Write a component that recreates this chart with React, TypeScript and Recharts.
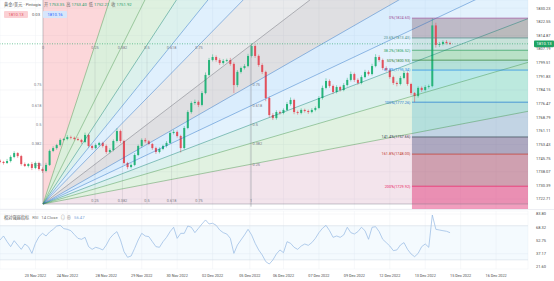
import React from 'react';
import {
  ComposedChart,
  Bar,
  Line,
  Area,
  XAxis,
  YAxis,
  CartesianGrid,
  ReferenceLine,
  ReferenceDot,
  ReferenceArea,
} from 'recharts';

// candle closes (open = previous close)
const firstOpen = 1744.3;
const closes = [
  1743.6, 1743.0, 1744.1, 1746.4, 1748.6, 1746.9, 1742.4, 1741.3, 1742.4, 1740.2,
  1743.0, 1739.6, 1738.5, 1741.9, 1749.8, 1751.4, 1753.1, 1756.0, 1756.5, 1757.6,
  1757.2, 1756.5, 1756.0, 1754.8, 1758.8, 1752.6, 1751.4, 1753.1, 1754.3, 1752.6,
  1749.2, 1750.3, 1755.4, 1761.0, 1755.4, 1743.0, 1740.7, 1741.9, 1747.5, 1752.6,
  1756.0, 1755.2, 1753.7, 1751.4, 1749.2, 1750.9, 1752.6, 1754.3, 1759.9, 1760.5,
  1758.2, 1751.4, 1762.7, 1771.7, 1776.8, 1777.4, 1775.7, 1782.4, 1792.6, 1801.0,
  1802.7, 1801.0, 1799.3, 1800.5, 1801.0, 1798.8, 1786.9, 1794.3, 1796.5, 1797.6,
  1803.3, 1808.9, 1803.3, 1798.2, 1794.3, 1779.6, 1770.0, 1768.3, 1771.7, 1771.2,
  1772.9, 1776.2, 1778.5, 1771.7, 1771.2, 1772.9, 1772.3, 1771.7, 1772.9, 1774.0,
  1779.6, 1785.3, 1789.2, 1786.4, 1783.0, 1785.8, 1784.1, 1786.9, 1789.8, 1793.1,
  1789.8, 1788.1, 1791.4, 1794.3, 1793.1, 1797.6, 1802.7, 1801.0, 1796.5, 1795.4,
  1791.4, 1788.1, 1787.5, 1790.9, 1793.7, 1787.5, 1782.4, 1780.7, 1785.3, 1784.1,
  1785.8, 1786.3, 1820.5, 1809.5, 1810.0, 1811.2, 1810.6, 1810.13,
];
const upperWicks = [
  0.8, 0.6, 1.2, 0.9, 1.0, 0.5, 0.7, 0.9, 0.6, 1.1,
  0.8, 0.7, 0.9, 1.2, 0.8, 1.0, 0.7, 0.9, 0.6, 1.1,
  0.8, 0.7, 1.0, 0.6, 1.3, 0.7, 0.8, 0.9, 0.6, 0.7,
  0.8, 1.0, 0.9, 1.6, 0.8, 0.7, 0.6, 0.9, 1.0, 0.8,
  0.9, 1.1, 0.7, 0.6, 0.8, 0.9, 0.7, 1.0, 0.9, 1.2,
  0.8, 0.7, 1.1, 1.0, 0.9, 1.3, 0.8, 1.1, 1.4, 1.2,
  1.5, 0.9, 1.0, 1.1, 0.8, 1.2, 0.9, 1.0, 0.8, 1.1,
  1.2, 1.6, 0.9, 0.8, 1.0, 0.7, 0.9, 1.1, 1.0, 0.8,
  0.9, 1.2, 1.4, 0.7, 0.8, 0.9, 0.7, 0.8, 1.0, 0.9,
  1.1, 1.3, 1.5, 0.9, 0.8, 1.0, 0.7, 1.1, 1.2, 1.4,
  0.8, 0.9, 1.0, 1.2, 0.9, 1.3, 1.6, 1.0, 0.8, 0.9,
  0.7, 0.8, 0.9, 1.1, 1.2, 0.8, 0.7, 0.6, 0.9, 0.8,
  1.0, 0.9, 4.1, 1.5, 1.2, 0.9, 1.0, 0.8,
];
const lowerWicks = [
  0.7, 0.9, 0.6, 0.8, 0.7, 1.0, 0.9, 0.6, 0.8, 1.2,
  0.7, 0.9, 1.1, 0.8, 0.6, 0.7, 0.9, 0.8, 0.6, 0.7,
  0.9, 0.8, 0.6, 1.0, 0.7, 0.9, 1.1, 0.7, 0.8, 0.9,
  1.0, 0.8, 0.7, 0.9, 1.2, 0.9, 1.2, 0.8, 0.7, 0.6,
  0.8, 0.9, 0.7, 1.0, 1.1, 0.8, 0.7, 0.9, 0.6, 0.8,
  0.9, 2.5, 0.8, 0.7, 0.9, 1.0, 1.2, 0.8, 0.7, 0.9,
  0.8, 1.0, 1.1, 0.9, 0.7, 1.0, 4.5, 1.2, 0.9, 0.8,
  0.7, 0.9, 1.1, 1.0, 1.2, 1.8, 1.3, 1.1, 0.9, 1.0,
  0.8, 0.7, 0.9, 1.2, 1.0, 0.8, 0.9, 1.1, 0.7, 0.8,
  0.7, 0.9, 0.8, 1.0, 1.2, 0.8, 0.9, 0.7, 0.8, 0.9,
  1.1, 1.0, 0.8, 0.7, 0.9, 0.8, 0.7, 1.0, 1.2, 0.9,
  1.0, 1.1, 1.3, 0.8, 0.7, 1.0, 1.2, 3.44, 0.9, 1.0,
  0.8, 0.9, 0.7, 1.5, 1.2, 0.8, 0.9, 0.7,
];
const rsiValues = [
  53.3, 58.0, 51.3, 45.5, 52.5, 47.4, 42.3, 48.6, 45.5, 37.6,
  49.4, 57.2, 61.1, 58.0, 62.7, 65.8, 69.7, 70.5, 66.6, 65.8,
  64.2, 59.6, 55.2, 54.1, 56.4, 45.5, 42.3, 44.7, 43.5, 41.6,
  47.4, 55.2, 59.9, 63.1, 53.3, 39.6, 33.0, 34.5, 43.5, 53.3,
  61.1, 58.0, 57.2, 51.3, 45.5, 44.7, 51.3, 56.4, 63.1, 68.2,
  55.2, 61.1, 61.1, 69.7, 68.2, 61.9, 67.0, 72.1, 76.8, 72.1,
  72.9, 70.5, 65.0, 61.9, 60.3, 55.2, 37.6, 47.4, 53.3, 59.2,
  65.8, 59.2, 49.4, 41.6, 35.7, 27.9, 25.1, 29.8, 36.9, 41.6,
  38.4, 51.3, 49.4, 44.7, 42.3, 46.2, 48.6, 47.0, 50.2, 55.2,
  61.9, 67.0, 70.5, 64.2, 56.4, 58.0, 56.4, 59.2, 68.2, 61.9,
  60.3, 63.1, 68.2, 64.2, 54.1, 68.2, 68.9, 63.1, 54.1, 50.2,
  46.2, 40.8, 41.6, 47.4, 50.2, 42.3, 36.9, 33.7, 37.6, 45.5,
  48.6, 44.7, 82.6, 65.8, 65.0, 64.2, 63.5, 61.9,
];

const dateLabels = [
  '23 Nov 2022', '24 Nov 2022', '28 Nov 2022', '29 Nov 2022', '30 Nov 2022',
  '02 Dec 2022', '05 Dec 2022', '06 Dec 2022', '07 Dec 2022', '09 Dec 2022',
  '12 Dec 2022', '13 Dec 2022', '15 Dec 2022', '16 Dec 2022',
];
const datePositions = [10, 19, 30, 40, 50, 60, 70.5, 80, 90, 100, 110, 120, 130, 140];
const priceTicks = [
  1722.71, 1730.39, 1738.07, 1745.75, 1753.43, 1761.11, 1768.79, 1776.47,
  1784.15, 1791.83, 1799.51, 1807.19, 1814.87, 1822.55, 1830.23,
];
const rsiTicks = [21.6, 37.17, 52.75, 68.32, 83.8];
const lastPrice = 1810.13;

// fib speed resistance fan (anchor points of the drawing)
const fanStart = { x: 12.13, price: 1719.89 };
const fanEnd = { x: 70.83, price: 1809.47 };
const fanLevels = [0.25, 0.382, 0.5, 0.618, 0.75];

// fib retracement drawing
const fibHigh = 1824.6;
const fibLow = 1777.26;
const fibLevels = [0, 0.236, 0.382, 0.5, 0.618, 1, 1.414, 1.618, 2];
const fibStartX = 116.25;

const X_MAX = 149;
const FONT = 'Roboto, "Noto Sans CJK SC", sans-serif';
const GREEN = '#27b47a';
const RED = '#e2505c';
const CEIL = 2400;
const FLOOR = 1600;

const fanZoneColors = [
  'rgba(242,54,69,0.2)',
  'rgba(76,175,80,0.2)',
  'rgba(129,199,132,0.25)',
  'rgba(8,153,129,0.14)',
  'rgba(100,181,246,0.2)',
  'rgba(120,123,134,0.16)',
  'rgba(120,123,134,0.24)',
  'rgba(33,150,243,0.17)',
  'rgba(100,181,246,0.18)',
  'rgba(8,153,129,0.14)',
  'rgba(76,175,80,0.17)',
  'rgba(186,104,150,0.18)',
];
const fanRayColors = [
  '#787b86', '#388e3c', '#388e3c', '#00796b', '#1565c0', '#1565c0', '#5d606b',
  '#1565c0', '#1565c0', '#00796b', '#388e3c', '#388e3c', '#787b86',
];
const fibZoneColors = [
  'rgba(120,80,95,0.34)',
  'rgba(120,170,140,0.2)',
  'rgba(76,175,80,0.24)',
  'rgba(8,153,129,0.18)',
  'rgba(0,188,212,0.16)',
  'rgba(0,150,200,0.2)',
  'rgba(60,70,120,0.38)',
  'rgba(150,50,80,0.38)',
  'rgba(225,40,110,0.45)',
];
const fibColors = ['#9c4f96', '#4f8f8a', '#2e9e5b', '#2e7d32', '#1e88e5', '#1976d2', '#37474f', '#c0392b', '#e91e63'];

const candles = closes.map((c, i) => {
  const o = i === 0 ? firstOpen : closes[i - 1];
  return {
    x: i,
    open: o,
    close: c,
    high: Math.max(o, c) + upperWicks[i],
    low: Math.min(o, c) - lowerWicks[i],
    rsi: rsiValues[i],
  };
});

const fanDx = fanEnd.x - fanStart.x;
const fanDp = fanEnd.price - fanStart.price;
const fanSlopes = [
  Infinity,
  ...fanLevels.map((f) => fanDp / (f * fanDx)),
  fanDp / fanDx,
  ...[...fanLevels].reverse().map((f) => (f * fanDp) / fanDx),
  0,
];
const rayPrice = (s: number, x: number) =>
  s === Infinity ? CEIL : fanStart.price + s * (x - fanStart.x);

const fanZones = fanSlopes.slice(0, -1).map((s, i) => ({
  color: fanZoneColors[i],
  data: [
    { x: fanStart.x, band: [fanStart.price, s === Infinity ? CEIL : fanStart.price] },
    { x: X_MAX, band: [rayPrice(fanSlopes[i + 1], X_MAX), rayPrice(s, X_MAX)] },
  ],
}));
const fanRays = fanSlopes.map((s, i) => ({
  color: fanRayColors[i],
  data: [
    { x: fanStart.x, v: fanStart.price },
    { x: s === Infinity ? fanStart.x : X_MAX, v: rayPrice(s, X_MAX) },
  ],
}));

const fibPrices = fibLevels.map((f) => fibHigh - f * (fibHigh - fibLow));
const fibZones = fibPrices.map((p, i) => ({
  color: fibZoneColors[i],
  data: [
    { x: fibStartX, band: [i < fibPrices.length - 1 ? fibPrices[i + 1] : FLOOR, p] },
    { x: X_MAX, band: [i < fibPrices.length - 1 ? fibPrices[i + 1] : FLOOR, p] },
  ],
}));

const Candle = (props: any) => {
  const { x, y, width, height, payload } = props;
  if (!payload || height == null) return null;
  const { open, close, high, low } = payload;
  const color = close >= open ? GREEN : RED;
  const ppu = height / (high - low);
  const cx = x + width / 2;
  const bodyTop = y + (high - Math.max(open, close)) * ppu;
  const bodyH = Math.max(Math.abs(open - close) * ppu, 0.6);
  return (
    <g>
      <line x1={cx} x2={cx} y1={y} y2={y + height} stroke={color} strokeWidth={0.5} />
      <rect x={cx - 1} y={bodyTop} width={2} height={bodyH} fill={color} />
    </g>
  );
};

const PriceBadge = (props: any) => {
  const vb = props.viewBox || { x: 0, y: 0, width: 0 };
  const x = vb.x + vb.width;
  return (
    <g>
      <rect x={x + 6} y={vb.y - 3.3} width={20} height={6.6} rx={0.8} fill="#1fa463" />
      <text x={x + 16} y={vb.y + 1.4} textAnchor="middle" fontSize={4.2} fill="#fff" fontFamily={FONT}>
        {lastPrice.toFixed(2)}
      </text>
    </g>
  );
};

const tinyLabel = (value: string, position: string, fill = '#787b86') => ({
  value,
  position,
  offset: 1.5,
  fontSize: 3.8,
  fill,
  fontFamily: FONT,
});

const pctText = (f: number) => `${+(f * 100).toFixed(1)}%`;

export default function App() {
  return (
    <div style={{ position: 'absolute', left: 0, top: 0, width: 554, height: 281, background: '#fff', fontFamily: FONT }}>
      <div style={{ position: 'absolute', left: 0, top: 0 }}>
        <ComposedChart width={554} height={209} data={candles} margin={{ top: 0, right: 0, bottom: 0, left: 0 }}>
          <CartesianGrid stroke="#eef0f4" strokeWidth={0.5} />
          <XAxis type="number" dataKey="x" domain={[0, X_MAX]} ticks={datePositions} hide allowDataOverflow />
          <YAxis
            orientation="right"
            width={26}
            domain={[1717.08, 1834.82]}
            ticks={priceTicks}
            allowDataOverflow
            tickFormatter={(v: number) => v.toFixed(2)}
            tick={{ fontSize: 4, fill: '#4a4a4a', fontFamily: FONT }}
            axisLine={false}
            tickLine={false}
          />
          {fanZones.map((z, i) => (
            <Area
              key={`fz${i}`}
              data={z.data}
              dataKey="band"
              type="linear"
              stroke="none"
              fill={z.color}
              fillOpacity={1}
              dot={false}
              activeDot={false}
              isAnimationActive={false}
            />
          ))}
          {fibZones.map((z, i) => (
            <Area
              key={`bz${i}`}
              data={z.data}
              dataKey="band"
              type="linear"
              stroke="none"
              fill={z.color}
              fillOpacity={1}
              dot={false}
              activeDot={false}
              isAnimationActive={false}
            />
          ))}
          {[0, ...fanLevels].map((f) => (
            <Line
              key={`gv${f}`}
              data={[
                { x: fanStart.x + f * fanDx, v: fanStart.price },
                { x: fanStart.x + f * fanDx, v: fanEnd.price },
              ]}
              dataKey="v"
              stroke="rgba(120,123,134,0.3)"
              strokeWidth={0.5}
              dot={false}
              activeDot={false}
              isAnimationActive={false}
            />
          ))}
          <Line
            data={[
              { x: fanEnd.x, v: fanStart.price - 1.5 },
              { x: fanEnd.x, v: fanEnd.price },
            ]}
            dataKey="v"
            stroke="#9598a1"
            strokeWidth={0.6}
            dot={false}
            activeDot={false}
            isAnimationActive={false}
          />
          {fanRays.map((r, i) => (
            <Line
              key={`fr${i}`}
              data={r.data}
              dataKey="v"
              stroke={r.color}
              strokeOpacity={0.7}
              strokeWidth={0.6}
              dot={false}
              activeDot={false}
              isAnimationActive={false}
            />
          ))}
          {fibPrices.map((p, i) => (
            <Line
              key={`fl${i}`}
              data={[
                { x: fibStartX, v: p },
                { x: X_MAX, v: p },
              ]}
              dataKey="v"
              stroke={fibColors[i]}
              strokeWidth={0.7}
              dot={false}
              activeDot={false}
              isAnimationActive={false}
            />
          ))}
          <Bar
            dataKey={(d: any) => [d.low, d.high]}
            barSize={2}
            shape={(p: any) => <Candle {...p} />}
            isAnimationActive={false}
          />
          <ReferenceLine
            y={lastPrice}
            stroke="#1fa463"
            strokeWidth={0.6}
            strokeDasharray="1 1.5"
            label={<PriceBadge />}
          />
          {[0, ...fanLevels].map((f) => (
            <ReferenceDot
              key={`lt${f}`}
              x={fanStart.x + f * fanDx}
              y={fanEnd.price}
              r={0.1}
              fill="none"
              stroke="none"
              label={tinyLabel(String(f), 'bottom')}
            />
          ))}
          {[...fanLevels, 1].map((f) => (
            <ReferenceDot
              key={`lb${f}`}
              x={fanStart.x + f * fanDx}
              y={fanStart.price}
              r={0.1}
              fill="none"
              stroke="none"
              label={tinyLabel(String(f), 'top')}
            />
          ))}
          {fanLevels.map((f) => (
            <ReferenceDot
              key={`lr${f}`}
              x={fanEnd.x}
              y={fanStart.price + f * fanDp}
              r={0.1}
              fill="none"
              stroke="none"
              label={tinyLabel(String(f), 'right')}
            />
          ))}
          {fanLevels.map((f) => (
            <ReferenceDot
              key={`ll${f}`}
              x={fanStart.x}
              y={fanStart.price + f * fanDp}
              r={0.1}
              fill="none"
              stroke="none"
              label={tinyLabel(String(f), 'left')}
            />
          ))}
          {fibPrices.map((p, i) => (
            <ReferenceDot
              key={`fb${i}`}
              x={fibStartX}
              y={p}
              r={0.1}
              fill="none"
              stroke="none"
              label={tinyLabel(`${pctText(fibLevels[i])}(${p.toFixed(2)})`, 'left', fibColors[i])}
            />
          ))}
        </ComposedChart>
      </div>

      <div style={{ position: 'absolute', left: 0, top: 210 }}>
        <ComposedChart width={554} height={71} data={candles} margin={{ top: 1, right: 0, bottom: 0, left: 0 }}>
          <CartesianGrid stroke="#eef0f4" strokeWidth={0.5} />
          <XAxis
            type="number"
            dataKey="x"
            domain={[0, X_MAX]}
            ticks={datePositions}
            interval={0}
            allowDataOverflow
            tickFormatter={(v: number) => dateLabels[datePositions.indexOf(v)] ?? ''}
            tick={{ fontSize: 3.8, fill: '#4a4a4a', fontFamily: FONT }}
            axisLine={false}
            tickLine={false}
            tickSize={4}
            tickMargin={1}
            height={12}
          />
          <YAxis
            orientation="right"
            width={26}
            domain={[19.25, 87.3]}
            ticks={rsiTicks}
            allowDataOverflow
            tickFormatter={(v: number) => v.toFixed(2)}
            tick={{ fontSize: 4, fill: '#4a4a4a', fontFamily: FONT }}
            axisLine={false}
            tickLine={false}
          />
          <ReferenceArea y1={30} y2={70} fill="#2196f3" fillOpacity={0.05} stroke="none" />
          <ReferenceLine y={70} stroke="#d3dbe6" strokeWidth={0.6} />
          <ReferenceLine y={30} stroke="#d3dbe6" strokeWidth={0.6} />
          <Line
            dataKey="rsi"
            stroke="#93b8e3"
            strokeWidth={0.7}
            dot={false}
            activeDot={false}
            isAnimationActive={false}
          />
        </ComposedChart>
      </div>

      <svg width={554} height={281} style={{ position: 'absolute', left: 0, top: 0, pointerEvents: 'none' }}>
        <line x1={0} x2={554} y1={209.5} y2={209.5} stroke="#e0e3eb" strokeWidth={0.6} />
        <text x={4} y={6} fontSize={4.2} fill="#555" fontFamily={FONT}>
          黄金/美元 · Pintogis
          <tspan dx={3} fill="#666">开</tspan>
          <tspan dx={1} fill="#27a06c">1753.35</tspan>
          <tspan dx={2} fill="#666">高</tspan>
          <tspan dx={1} fill="#27a06c">1753.40</tspan>
          <tspan dx={2} fill="#666">低</tspan>
          <tspan dx={1} fill="#27a06c">1752.21</tspan>
          <tspan dx={2} fill="#666">收</tspan>
          <tspan dx={1} fill="#27a06c">1751.92</tspan>
        </text>
        <rect x={4} y={11} width={24} height={7} rx={1} fill="#fbd0d4" />
        <text x={16} y={16} fontSize={4.2} textAnchor="middle" fill="#e2505c" fontFamily={FONT}>1810.13</text>
        <text x={36} y={16} fontSize={4.2} textAnchor="middle" fill="#555" fontFamily={FONT}>0.03</text>
        <rect x={43} y={11} width={24} height={7} rx={1} fill="#d6e6fb" />
        <text x={55} y={16} fontSize={4.2} textAnchor="middle" fill="#2962ff" fontFamily={FONT}>1810.16</text>
        <text x={4} y={219} fontSize={4.2} fill="#555" fontFamily={FONT}>
          相对强弱指标
          <tspan dx={3} fill="#777">RSI</tspan>
          <tspan dx={3} fill="#777">14 Close</tspan>
          <tspan dx={3} fill="#777">◎</tspan>
          <tspan dx={2} fill="#777">⊕</tspan>
          <tspan dx={3} fill="#7fa7d9">56.47</tspan>
        </text>
      </svg>
    </div>
  );
}
